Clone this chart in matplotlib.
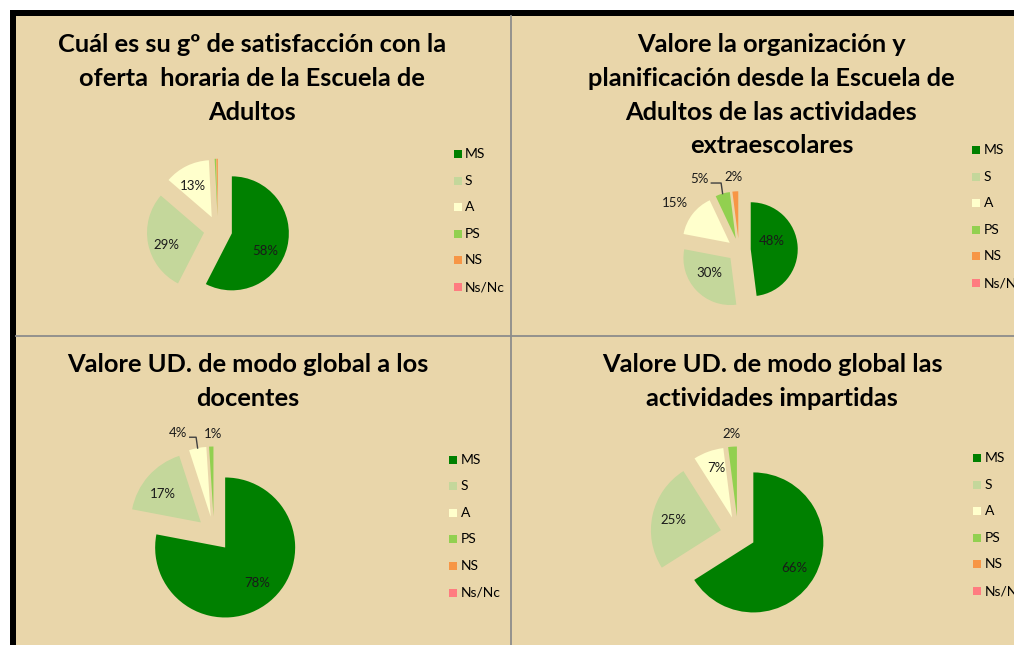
import matplotlib
matplotlib.use('Agg')
import matplotlib.pyplot as plt
from matplotlib.patches import Rectangle
import numpy as np

# Data
categories = ['MS', 'S', 'A', 'PS', 'NS', 'Ns/Nc']
oferta_horaria = [58, 29, 13, 0.4, 0.4, 0]
organizacion_extraescolares = [48, 30, 15, 5, 2, 0]
docentes = [78, 17, 4, 1, 0, 0]
actividades = [66, 25, 7, 2, 0, 0]

titles = [
    ['Cuál es su gº de satisfacción con la', 'oferta  horaria de la Escuela de', 'Adultos'],
    ['Valore la organización y', 'planificación desde la Escuela de',
     'Adultos de las actividades', 'extraescolares'],
    ['Valore UD. de modo global a los', 'docentes'],
    ['Valore UD. de modo global las', 'actividades impartidas'],
]

colors = ['#008000', '#C4D79B', '#FFFFCC', '#92D050', '#F79646', '#FF7C80']
BG = '#E9D6AA'
W, H = 1014, 645

plt.rcParams['font.family'] = ['Lato', 'DejaVu Sans']

# layout in pixels: title center x, first title line y, pie center, radius,
# legend square x, legend first row y, label (radial factor, angle nudge, leader)
layouts = [
    dict(tx=252, ty=45, c=(218, 230), r=57, lx=457.5, ly=154,
         lab=[(0.90, 10, 0), (0.94, -5, 0), (0.89, -3, 0), None, None, None]),
    dict(tx=771.5, ty=45, c=(739, 250), r=47, lx=976, ly=150,
         lab=[(0.72, -12, 0), (0.80, 6, 0), (1.69, -1.5, 0), (1.73, -13, 1), (1.56, -1, 0), None]),
    dict(tx=248, ty=365, c=(214, 534), r=70, lx=453, ly=459.5,
         lab=[(0.94, -2, 0), (0.93, -3, 0), (1.53, -9, 1), (1.43, 1, 0), None, None]),
    dict(tx=772, ty=365, c=(738, 534), r=70, lx=977, ly=458,
         lab=[(0.94, 2.5, 0), (0.95, -0.4, 0), (1.0, 1.5, 0), (1.43, 0, 0), None, None]),
]
series = [oferta_horaria, organizacion_extraescolares, docentes, actividades]

fig = plt.figure(figsize=(W / 100, H / 100), dpi=100, facecolor='white')

# background, border and panel dividers
bg = fig.add_axes([0, 0, 1, 1])
bg.set_xlim(0, W)
bg.set_ylim(H, 0)
bg.axis('off')
bg.add_patch(Rectangle((16, 16), W, H, facecolor=BG, edgecolor='none'))
bg.add_patch(Rectangle((10, 10), W, 6, facecolor='black', edgecolor='none'))
bg.add_patch(Rectangle((10, 10), 6, H, facecolor='black', edgecolor='none'))
bg.plot([510.5, 510.5], [16, H], color='#8C8C8C', lw=1.3)
bg.plot([16, W], [335.5, 335.5], color='#8C8C8C', lw=1.3)

for vals, lay, tlines in zip(series, layouts, titles):
    # title, one line at a time
    for i, line in enumerate(tlines):
        bg.text(lay['tx'], lay['ty'] + i * 33.5, line, ha='center', va='center',
                fontsize=18.3, fontweight='bold', color='black')

    # legend
    for i, (cat, col) in enumerate(zip(categories, colors)):
        y = lay['ly'] + i * 26.6
        bg.add_patch(Rectangle((lay['lx'] - 4, y - 4), 8, 8, facecolor=col, edgecolor='none'))
        bg.text(lay['lx'] + 7.5, y, cat, ha='left', va='center', fontsize=10, color='black')

    # pie in its own axes, radius 1
    cx, cy = lay['c']
    r = lay['r']
    L = 1.9
    ax = fig.add_axes([(cx - L * r) / W, (H - cy - L * r) / H, 2 * L * r / W, 2 * L * r / H])
    wedges, _ = ax.pie(vals, colors=colors, startangle=90, counterclock=False,
                       explode=[0.25] * len(vals), radius=1,
                       wedgeprops=dict(linewidth=0))
    ax.set_xlim(-L, L)
    ax.set_ylim(-L, L)
    ax.axis('off')

    for w, v, lab in zip(wedges, vals, lay['lab']):
        if lab is None or v < 0.5:
            continue
        f, nudge, leader = lab
        mid = np.deg2rad((w.theta1 + w.theta2) / 2)
        ang = mid - np.deg2rad(nudge)
        x, y = f * np.cos(ang), f * np.sin(ang)
        ax.text(x, y, f'{v:.0f}%', ha='center', va='center', fontsize=9.5, color='#1A1A1A')
        if leader:
            tipx = w.center[0] + w.r * np.cos(mid)
            tipy = w.center[1] + w.r * np.sin(mid)
            ly = y - 4 / r
            ax.plot([x + 12 / r, tipx - 1.5 / r, tipx], [ly, ly, tipy],
                    color='#404040', lw=1)

fig.savefig('out.png', dpi=100)
